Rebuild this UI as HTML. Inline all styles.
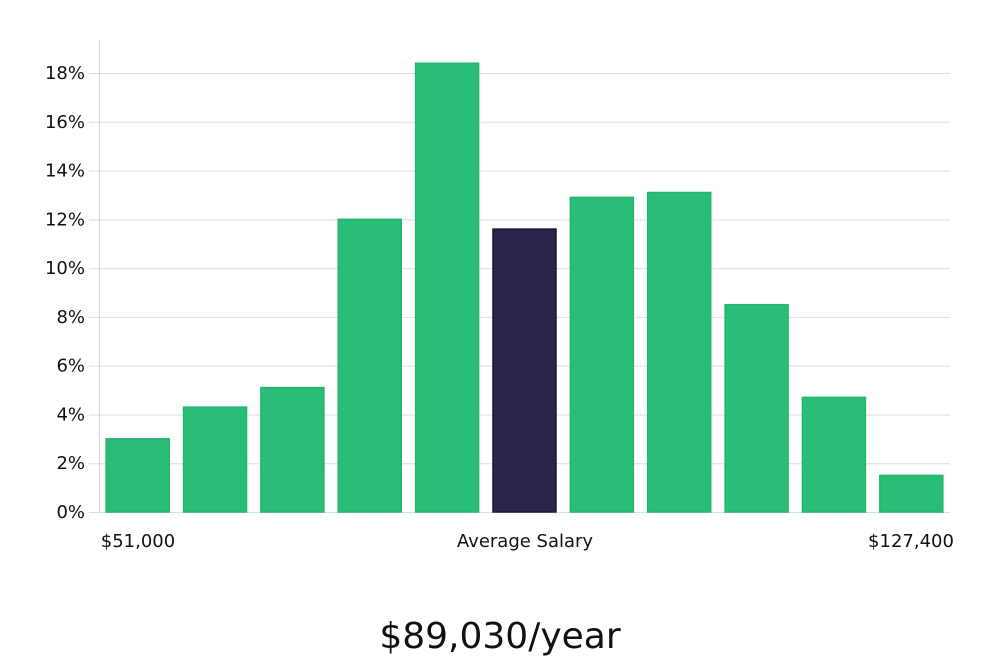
<!DOCTYPE html>
<html><head><meta charset="utf-8"><style>
body{margin:0;background:#fff;}
svg text{font-family:"DejaVu Sans","Liberation Sans",sans-serif;}
</style></head><body>
<svg id="chart" width="1000" height="660" xmlns="http://www.w3.org/2000/svg">
<g id="grid"></g>
<g id="yticks"></g>
<g id="bars"></g>
<line x1="99.5" y1="40" x2="99.5" y2="512" stroke="#d9d9d9" stroke-width="1"/>
<text x="138" y="547" font-size="18" text-anchor="middle" fill="#111">$51,000</text>
<text x="525" y="547" font-size="18" text-anchor="middle" fill="#111">Average Salary</text>
<text x="911" y="547" font-size="18" text-anchor="middle" fill="#111">$127,400</text>
<text x="500" y="648" font-size="36" text-anchor="middle" fill="#111" font-family="Liberation Sans Narrow, Liberation Sans, sans-serif">$89,030/year</text>
</svg>
<script>
const categories = ["b1","b2","b3","b4","b5","b6","b7","b8","b9","b10","b11"];
const values = [3.0, 4.3, 5.1, 12.0, 18.4, 11.6, 12.9, 13.1, 8.5, 4.7, 1.5];
const highlightIndex = 5;
const yTicks = [0,2,4,6,8,10,12,14,16,18];
const NS="http://www.w3.org/2000/svg";
const x0=99, x1=950, y0=512, pxPerPct=(512-73)/18;
const band=(x1-x0)/categories.length, barW=63;
function y(v){return y0-v*pxPerPct;}
function xb(i){return x0+band*i+(band-barW)/2;}
const grid=document.getElementById('grid'), yt=document.getElementById('yticks'), bars=document.getElementById('bars');
yTicks.forEach(t=>{
  const l=document.createElementNS(NS,'line');
  
  
  l.setAttribute('x1',89);l.setAttribute('x2',x1);
  l.setAttribute('y1',y(t)+0.5);l.setAttribute('y2',y(t)+0.5);
  l.setAttribute('stroke','#dedede');l.setAttribute('stroke-width',1);
  grid.appendChild(l);
  const tx=document.createElementNS(NS,'text');
  
  
  tx.setAttribute('x',85);tx.setAttribute('y',y(t)+6);
  tx.setAttribute('text-anchor','end');tx.setAttribute('font-size','18');tx.setAttribute('fill','#111');
  tx.textContent=t+'%';
  yt.appendChild(tx);
});
values.forEach((v,i)=>{
  const r=document.createElementNS(NS,'rect');
  
  
  r.setAttribute('x',xb(i));r.setAttribute('width',barW);
  r.setAttribute('y',y(v));r.setAttribute('height',y0-y(v));
  const hl=i===highlightIndex;
  r.setAttribute('fill',hl?'#29254a':'#2abd77');
  r.setAttribute('stroke',hl?'#1a163a':'#22b56d');r.setAttribute('stroke-width',1.5);
  bars.appendChild(r);
});
</script>
</body></html>
